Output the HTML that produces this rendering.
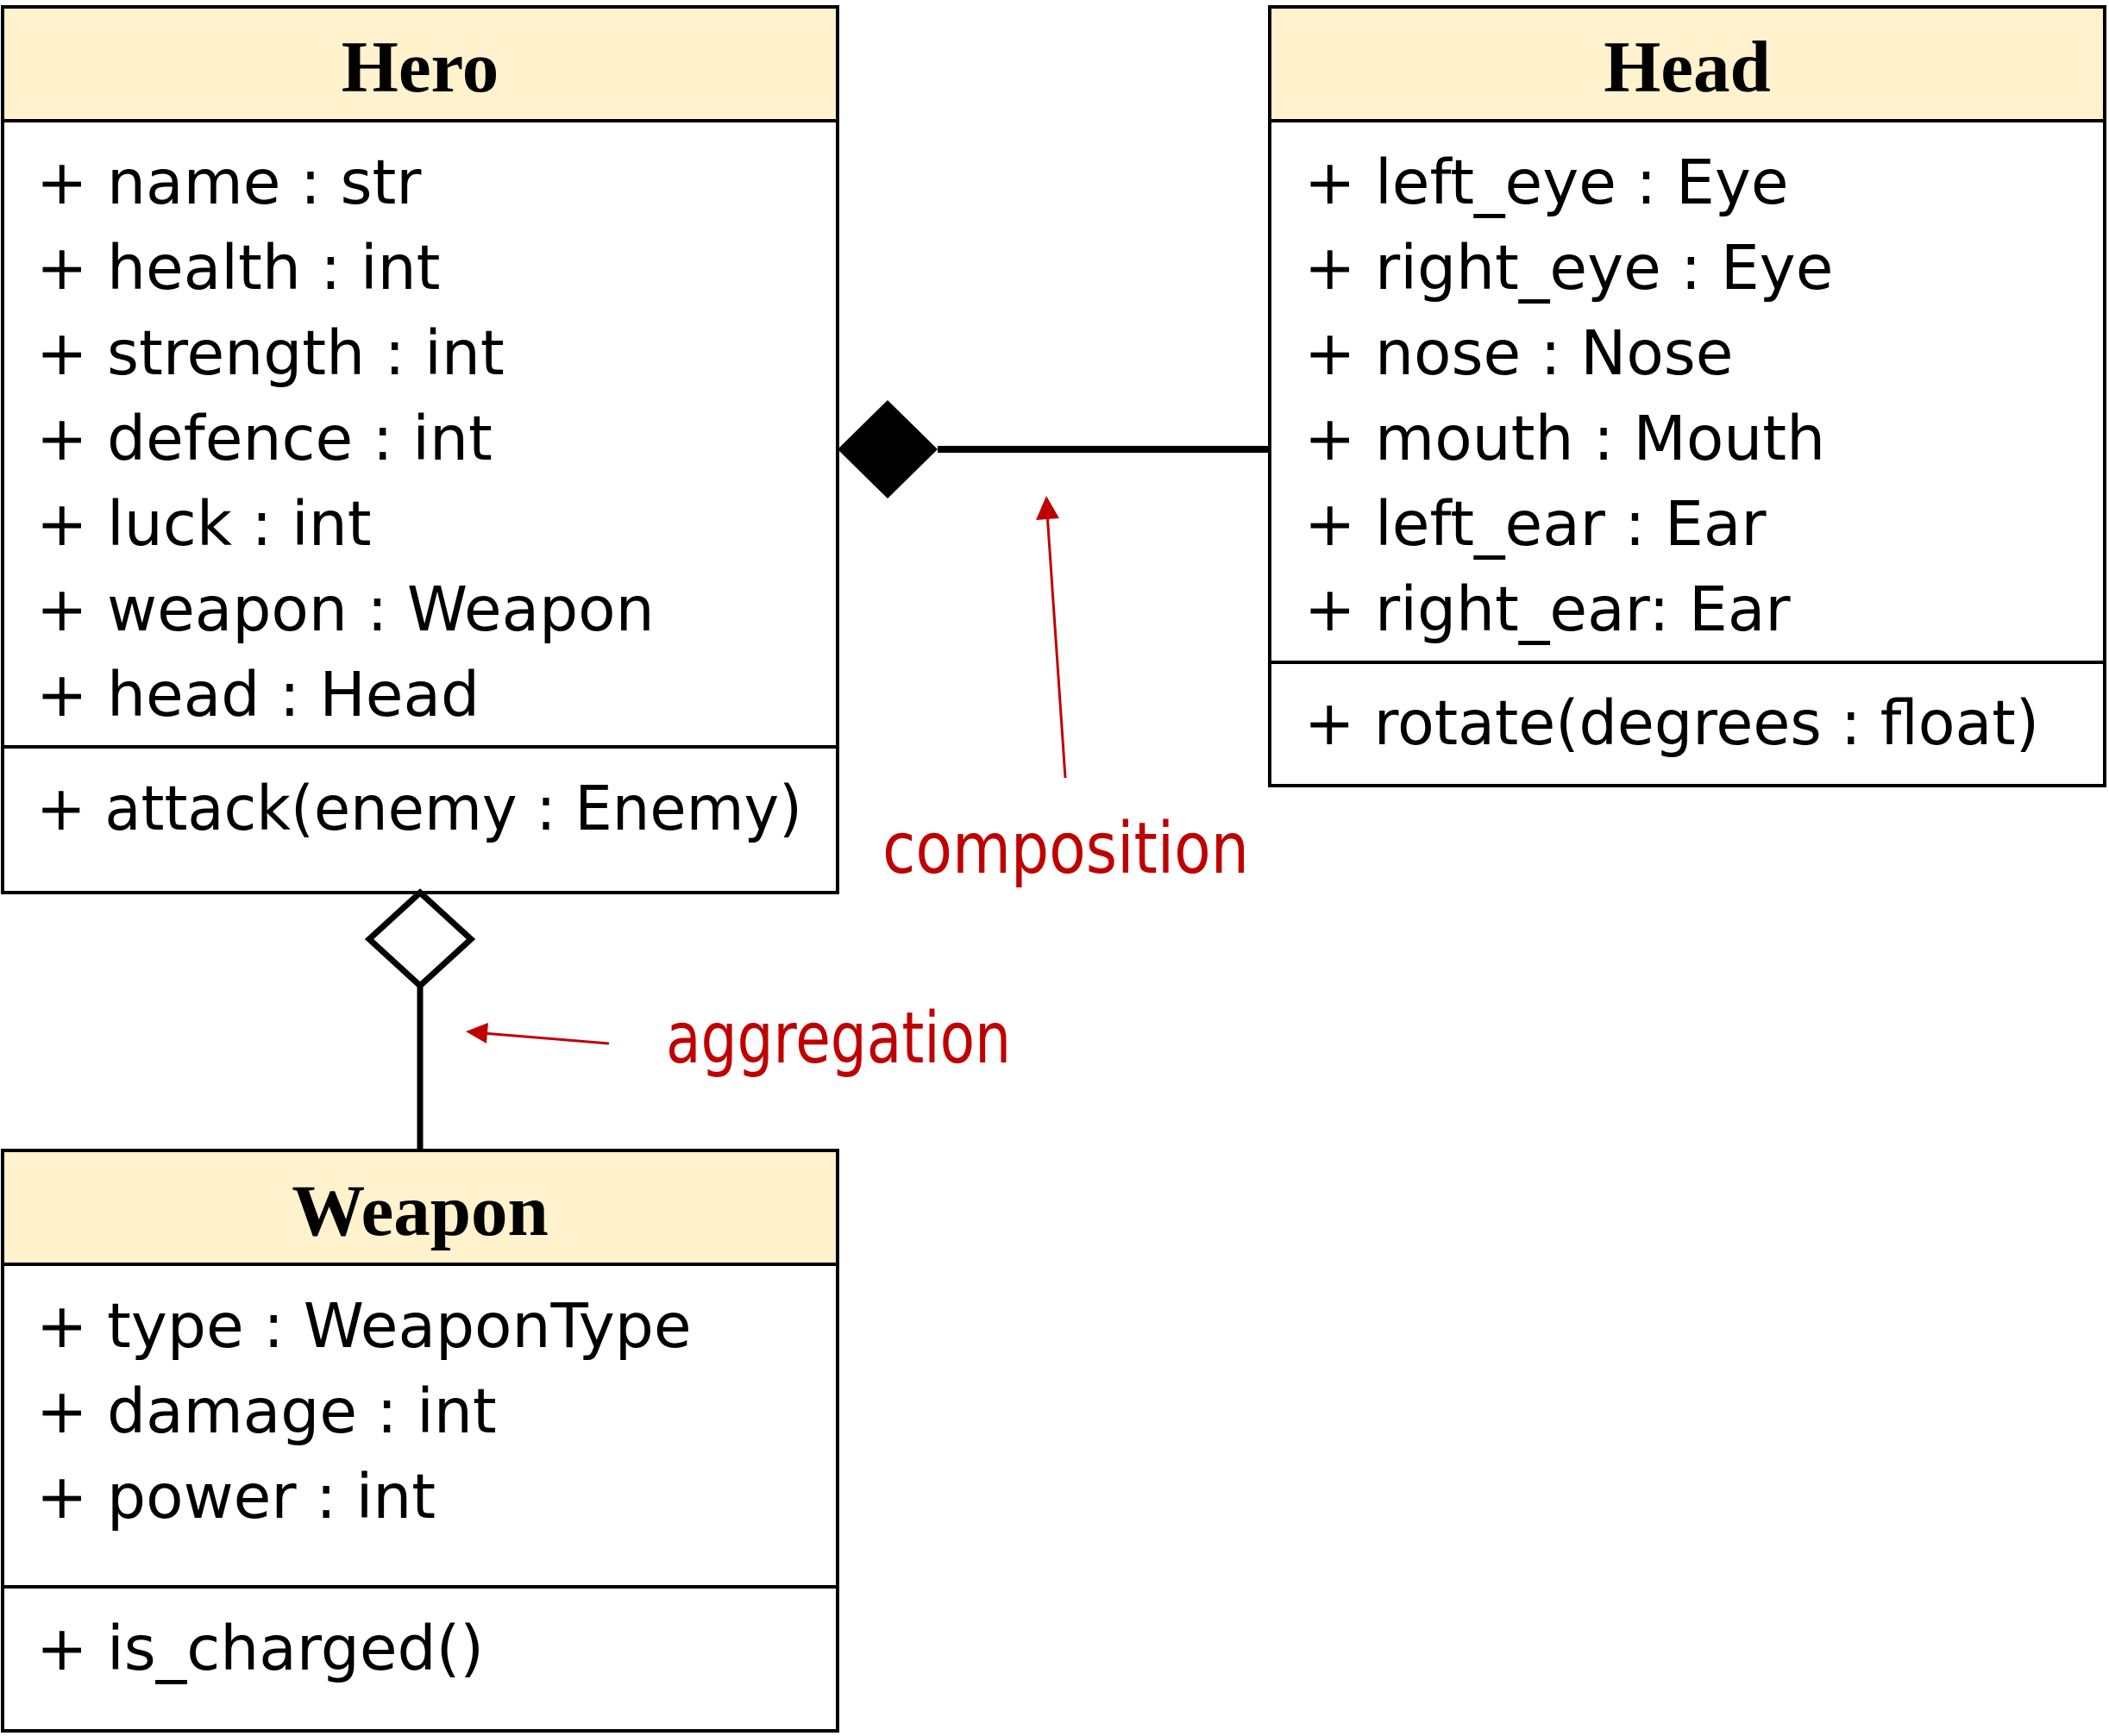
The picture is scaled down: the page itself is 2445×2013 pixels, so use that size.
<!DOCTYPE html>
<html><head><meta charset="utf-8"><style>
html,body{margin:0;padding:0;background:#fff;}
svg{display:block;}
.t{font-family:"DejaVu Sans","Liberation Sans",sans-serif;font-size:71px;fill:#000;}
.h{font-family:"Liberation Serif",serif;font-weight:bold;font-size:85px;fill:#000;}
.r{font-family:"DejaVu Sans Condensed","DejaVu Sans",sans-serif;font-size:82px;fill:#c00000;}
</style></head><body>
<svg width="2445" height="2013" viewBox="0 0 2445 2013" xmlns="http://www.w3.org/2000/svg">
<!-- Hero -->
<rect x="3" y="8" width="968" height="132" fill="#fff2cc" stroke="#000" stroke-width="4"/>
<rect x="3" y="140" width="968" height="895" fill="#fff" stroke="#000" stroke-width="4"/>
<line x1="3" y1="866" x2="971" y2="866" stroke="#000" stroke-width="4"/>
<text class="h" x="487" y="106" text-anchor="middle">Hero</text>
<text class="t" x="42" y="236">+ name : str</text>
<text class="t" x="42" y="335">+ health : int</text>
<text class="t" x="42" y="434">+ strength : int</text>
<text class="t" x="42" y="533">+ defence : int</text>
<text class="t" x="42" y="632">+ luck : int</text>
<text class="t" x="42" y="731">+ weapon : Weapon</text>
<text class="t" x="42" y="830">+ head : Head</text>
<text class="t" x="42" y="962" textLength="888" lengthAdjust="spacingAndGlyphs">+ attack(enemy : Enemy)</text>
<!-- Head -->
<rect x="1472" y="8" width="968" height="132" fill="#fff2cc" stroke="#000" stroke-width="4"/>
<rect x="1472" y="140" width="968" height="771" fill="#fff" stroke="#000" stroke-width="4"/>
<line x1="1472" y1="768" x2="2440" y2="768" stroke="#000" stroke-width="4"/>
<text class="h" x="1956" y="106" text-anchor="middle">Head</text>
<text class="t" x="1512" y="236">+ left_eye : Eye</text>
<text class="t" x="1512" y="335">+ right_eye : Eye</text>
<text class="t" x="1512" y="434">+ nose : Nose</text>
<text class="t" x="1512" y="533">+ mouth : Mouth</text>
<text class="t" x="1512" y="632">+ left_ear : Ear</text>
<text class="t" x="1512" y="731">+ right_ear: Ear</text>
<text class="t" x="1512" y="863" textLength="852" lengthAdjust="spacingAndGlyphs">+ rotate(degrees : float)</text>
<!-- Weapon -->
<rect x="3" y="1334" width="968" height="132" fill="#fff2cc" stroke="#000" stroke-width="4"/>
<rect x="3" y="1466" width="968" height="541" fill="#fff" stroke="#000" stroke-width="4"/>
<line x1="3" y1="1840" x2="971" y2="1840" stroke="#000" stroke-width="4"/>
<text class="h" x="487" y="1432" text-anchor="middle">Weapon</text>
<text class="t" x="42" y="1562">+ type : WeaponType</text>
<text class="t" x="42" y="1661">+ damage : int</text>
<text class="t" x="42" y="1760">+ power : int</text>
<text class="t" x="42" y="1936">+ is_charged()</text>
<!-- composition -->
<polygon points="971,521 1029,464 1087,521 1029,578" fill="#000"/>
<line x1="1087" y1="521" x2="1472" y2="521" stroke="#000" stroke-width="8"/>
<!-- aggregation -->
<polygon points="487,1035 546,1089 487,1143 428,1089" fill="#fff" stroke="#000" stroke-width="7"/>
<line x1="487" y1="1143" x2="487" y2="1334" stroke="#000" stroke-width="7"/>
<!-- red arrows -->
<line x1="1235" y1="902" x2="1214" y2="595" stroke="#c00000" stroke-width="3"/>
<polygon points="1213,575 1201,603 1228,601" fill="#c00000"/>
<line x1="706" y1="1210" x2="560" y2="1198" stroke="#c00000" stroke-width="3"/>
<polygon points="540,1196 566,1186 564,1210" fill="#c00000"/>
<text class="r" x="1023" y="1012" textLength="425" lengthAdjust="spacingAndGlyphs">composition</text>
<text class="r" x="772" y="1232" textLength="400" lengthAdjust="spacingAndGlyphs">aggregation</text>
</svg>
</body></html>
